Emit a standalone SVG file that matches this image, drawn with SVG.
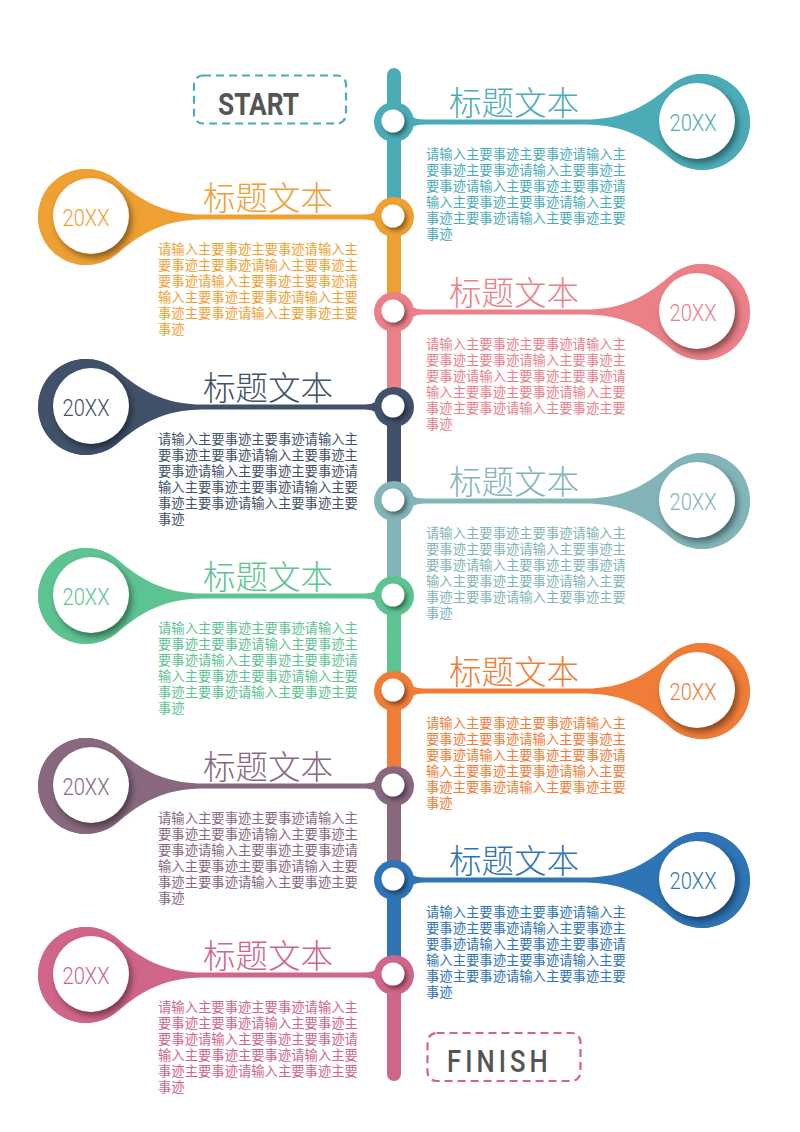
<svg xmlns="http://www.w3.org/2000/svg" xmlns:xlink="http://www.w3.org/1999/xlink" width="800" height="1132" viewBox="0 0 800 1132">
<style>
.t{font-family:"Noto Sans CJK SC","Noto Sans",sans-serif}
.ti{font-size:32.5px;font-weight:300}
.pa{font-size:13.33px}
.yr{font-family:Roboto,"Liberation Sans",sans-serif;font-size:24px;font-weight:300;text-anchor:middle}
.wh{fill:#fff}
.sh{fill:#000;opacity:.42}
.lbl{font-family:Roboto,"Liberation Sans",sans-serif;fill:#555}
</style>
<defs>
<filter id="blur" x="-40%" y="-40%" width="180%" height="180%"><feGaussianBlur stdDeviation="3"/></filter>
<filter id="blur2" x="-60%" y="-60%" width="220%" height="220%"><feGaussianBlur stdDeviation="2"/></filter>
<path id="flare" d="M404 -16 Q408 -2.5 424 -2.5 L585 -2.5 C625 -2.5 648 -17.5 671.1 -36.8 A48 48 0 1 1 671.1 36.8 C648 17.5 625 2.5 585 2.5 L424 2.5 Q408 2.5 404 16 Z"/>
<g id="paraR">
<text class="t pa" x="426" y="37">请输入主要事迹主要事迹请输入主</text>
<text class="t pa" x="426" y="53">要事迹主要事迹请输入主要事迹主</text>
<text class="t pa" x="426" y="69">要事迹请输入主要事迹主要事迹请</text>
<text class="t pa" x="426" y="85">输入主要事迹主要事迹请输入主要</text>
<text class="t pa" x="426" y="101">事迹主要事迹请输入主要事迹主要</text>
<text class="t pa" x="426" y="117">事迹</text>
</g>
<g id="paraL">
<text class="t pa" x="158" y="37">请输入主要事迹主要事迹请输入主</text>
<text class="t pa" x="158" y="53">要事迹主要事迹请输入主要事迹主</text>
<text class="t pa" x="158" y="69">要事迹请输入主要事迹主要事迹请</text>
<text class="t pa" x="158" y="85">输入主要事迹主要事迹请输入主要</text>
<text class="t pa" x="158" y="101">事迹主要事迹请输入主要事迹主要</text>
<text class="t pa" x="158" y="117">事迹</text>
</g>
<g id="bigR">
<circle cx="702" cy="0" r="48"/>
<use xlink:href="#flare"/>
<circle class="sh" cx="700" cy="3" r="38" filter="url(#blur)"/>
<circle class="wh" cx="697" cy="-1" r="38"/>
</g>
<g id="bigL">
<circle cx="86" cy="0" r="48"/>
<use xlink:href="#flare" transform="matrix(-1 0 0 1 788 0)"/>
<circle class="sh" cx="94" cy="3" r="38" filter="url(#blur)"/>
<circle class="wh" cx="91" cy="-1" r="38"/>
</g>
<g id="junc">
<circle cx="394" cy="0" r="20"/>
<circle class="sh" cx="395.5" cy="2" r="11.5" filter="url(#blur2)"/>
<circle class="wh" cx="393" cy="-1" r="11.5"/>
</g>
</defs>

<g id="start">
<rect x="194" y="75.5" width="152" height="48" rx="9" fill="none" stroke="#4BACB8" stroke-width="2.2" stroke-dasharray="8 5"/>
<text class="lbl" x="218" y="115" font-size="32" font-weight="700" textLength="81" lengthAdjust="spacingAndGlyphs">START</text>
</g>
<g id="finish">
<rect x="427.5" y="1033" width="153" height="48" rx="9" fill="none" stroke="#D0648A" stroke-width="2.2" stroke-dasharray="8 5"/>
<text class="lbl" x="447" y="1072" font-size="32" font-weight="500" textLength="126" lengthAdjust="spacing" transform="translate(447 0) scale(0.8 1) translate(-447 0)">FINISH</text>
</g>

<g id="item1" transform="translate(0,122)" fill="#4BACB8">
<use xlink:href="#bigR"/>
<text class="yr" x="693" y="9" textLength="47" lengthAdjust="spacingAndGlyphs">20XX</text>
<text class="t ti" x="449" y="-7">标题文本</text>
<use xlink:href="#paraR"/>
</g>
<g id="item2" transform="translate(0,217)" fill="#EFA033">
<use xlink:href="#bigL"/>
<text class="yr" x="86" y="9" textLength="47" lengthAdjust="spacingAndGlyphs">20XX</text>
<text class="t ti" x="203" y="-7">标题文本</text>
<use xlink:href="#paraL"/>
</g>
<g id="item3" transform="translate(0,312)" fill="#EC8088">
<use xlink:href="#bigR"/>
<text class="yr" x="693" y="9" textLength="47" lengthAdjust="spacingAndGlyphs">20XX</text>
<text class="t ti" x="449" y="-7">标题文本</text>
<use xlink:href="#paraR"/>
</g>
<g id="item4" transform="translate(0,407)" fill="#405169">
<use xlink:href="#bigL"/>
<text class="yr" x="86" y="9" textLength="47" lengthAdjust="spacingAndGlyphs">20XX</text>
<text class="t ti" x="203" y="-7">标题文本</text>
<use xlink:href="#paraL"/>
</g>
<g id="item5" transform="translate(0,501)" fill="#83B5B8">
<use xlink:href="#bigR"/>
<text class="yr" x="693" y="9" textLength="47" lengthAdjust="spacingAndGlyphs">20XX</text>
<text class="t ti" x="449" y="-7">标题文本</text>
<use xlink:href="#paraR"/>
</g>
<g id="item6" transform="translate(0,596)" fill="#5DC391">
<use xlink:href="#bigL"/>
<text class="yr" x="86" y="9" textLength="47" lengthAdjust="spacingAndGlyphs">20XX</text>
<text class="t ti" x="203" y="-7">标题文本</text>
<use xlink:href="#paraL"/>
</g>
<g id="item7" transform="translate(0,691)" fill="#EF7D37">
<use xlink:href="#bigR"/>
<text class="yr" x="693" y="9" textLength="47" lengthAdjust="spacingAndGlyphs">20XX</text>
<text class="t ti" x="449" y="-7">标题文本</text>
<use xlink:href="#paraR"/>
</g>
<g id="item8" transform="translate(0,786)" fill="#88687F">
<use xlink:href="#bigL"/>
<text class="yr" x="86" y="9" textLength="47" lengthAdjust="spacingAndGlyphs">20XX</text>
<text class="t ti" x="203" y="-7">标题文本</text>
<use xlink:href="#paraL"/>
</g>
<g id="item9" transform="translate(0,880)" fill="#2F74B5">
<use xlink:href="#bigR"/>
<text class="yr" x="693" y="9" textLength="47" lengthAdjust="spacingAndGlyphs">20XX</text>
<text class="t ti" x="449" y="-7">标题文本</text>
<use xlink:href="#paraR"/>
</g>
<g id="item10" transform="translate(0,975)" fill="#D0658B">
<use xlink:href="#bigL"/>
<text class="yr" x="86" y="9" textLength="47" lengthAdjust="spacingAndGlyphs">20XX</text>
<text class="t ti" x="203" y="-7">标题文本</text>
<use xlink:href="#paraL"/>
</g>

<g id="connectors" stroke-width="14" fill="none">
<line x1="394" y1="75" x2="394" y2="217" stroke="#4BACB8" stroke-linecap="round"/>
<line x1="394" y1="217" x2="394" y2="312" stroke="#EFA033"/>
<line x1="394" y1="312" x2="394" y2="407" stroke="#EC8088"/>
<line x1="394" y1="407" x2="394" y2="501" stroke="#405169"/>
<line x1="394" y1="501" x2="394" y2="596" stroke="#83B5B8"/>
<line x1="394" y1="596" x2="394" y2="691" stroke="#5DC391"/>
<line x1="394" y1="691" x2="394" y2="786" stroke="#EF7D37"/>
<line x1="394" y1="786" x2="394" y2="880" stroke="#88687F"/>
<line x1="394" y1="880" x2="394" y2="975" stroke="#2F74B5"/>
<line x1="394" y1="975" x2="394" y2="1074" stroke="#D0658B" stroke-linecap="round"/>
</g>
<g id="junctions" stroke="none">
<use xlink:href="#junc" transform="translate(0,122)" fill="#4BACB8"/>
<use xlink:href="#junc" transform="translate(0,217)" fill="#EFA033"/>
<use xlink:href="#junc" transform="translate(0,312)" fill="#EC8088"/>
<use xlink:href="#junc" transform="translate(0,407)" fill="#405169"/>
<use xlink:href="#junc" transform="translate(0,501)" fill="#83B5B8"/>
<use xlink:href="#junc" transform="translate(0,596)" fill="#5DC391"/>
<use xlink:href="#junc" transform="translate(0,691)" fill="#EF7D37"/>
<use xlink:href="#junc" transform="translate(0,786)" fill="#88687F"/>
<use xlink:href="#junc" transform="translate(0,880)" fill="#2F74B5"/>
<use xlink:href="#junc" transform="translate(0,975)" fill="#D0658B"/>
</g>
</svg>
